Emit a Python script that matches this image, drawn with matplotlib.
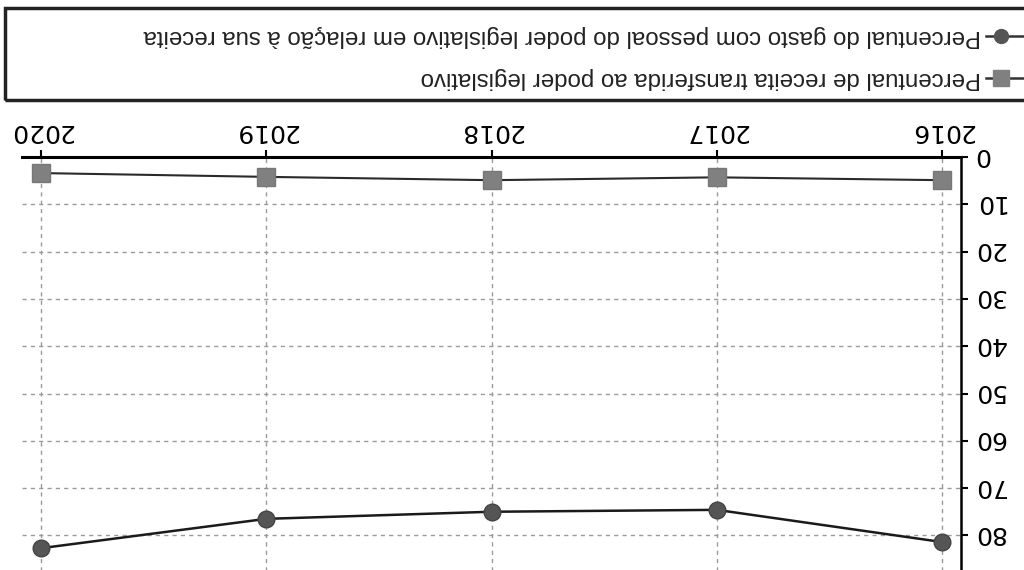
import matplotlib
matplotlib.use("Agg")
import matplotlib.pyplot as plt
from matplotlib.lines import Line2D
from matplotlib.patches import Rectangle

# dados (gráfico digitalizado de cabeça para baixo)
anos = [2016, 2017, 2018, 2019, 2020]
gasto_pessoal = [81.4, 74.6, 75.0, 76.5, 82.7]
receita_transferida = [4.9, 4.3, 4.9, 4.2, 3.4]
yticks = [0, 10, 20, 30, 40, 50, 60, 70, 80]
legenda = [
    "Percentual do gasto com pessoal do poder legislativo em relação à sua receita",
    "Percentual de receita transferida ao poder legislativo",
]

W, H = 1024, 570
fig = plt.figure(figsize=(W / 100, H / 100), dpi=100)

def fx(x):
    return x / W

def fy(y):
    return 1 - y / H

# eixo: topo em y=157 px (valor 0), 4.73 px por unidade
top_px = 157
bottom_px = top_px + 90 * 4.73
ax = fig.add_axes([fx(22), fy(bottom_px), fx(961) - fx(22), fy(top_px) - fy(bottom_px)])

ax.plot(anos, gasto_pessoal, color="#1a1a1a", lw=1.8, marker="o", ms=12,
        mfc="#555555", mec="#444444", zorder=3)
ax.plot(anos, receita_transferida, color="#2a2a2a", lw=1.5, marker="s", ms=13,
        mfc="#808080", mec="#777777", zorder=3)

ax.set_xlim(2020 + 19 / 225, 2016 - 19 / 225)
ax.set_ylim(90, 0)

ax.xaxis.tick_top()
ax.yaxis.tick_right()
ax.set_xticks(anos)
ax.set_xticklabels([str(a) for a in anos], rotation=180, fontsize=18,
                   family="DejaVu Sans")
ax.set_yticks(yticks)
ax.set_yticklabels([str(v) for v in yticks], rotation=180, fontsize=18,
                   family="DejaVu Sans", rotation_mode="anchor",
                   ha="right", va="center_baseline")
ax.tick_params(axis="both", direction="out", length=5, width=1.5)
ax.tick_params(axis="x", pad=5)
ax.tick_params(axis="y", pad=4)

for s in ["left", "bottom"]:
    ax.spines[s].set_visible(False)
ax.spines["top"].set_linewidth(2.2)
ax.spines["right"].set_linewidth(1.8)

ax.grid(True, color="#9a9a9a", linestyle=(0, (3, 3)), lw=1)
ax.set_axisbelow(True)

# caixa da legenda (desenhada invertida)
fig.add_artist(Rectangle((fx(5), fy(100)), fx(1040) - fx(5), fy(8) - fy(100),
                         transform=fig.transFigure, fill=False, lw=2.5,
                         edgecolor="#222222"))

entradas = [(36, "o", "#555555", 10), (78, "s", "#808080", 12)]
for (ypx, mk, cor, ms), texto in zip(entradas, legenda):
    fig.add_artist(Line2D([fx(986), fx(1030)], [fy(ypx), fy(ypx)],
                          transform=fig.transFigure, color="#333333", lw=1.8))
    fig.add_artist(Line2D([fx(1001)], [fy(ypx)], transform=fig.transFigure,
                          marker=mk, ms=ms, mfc=cor, mec=cor, lw=0))
    fig.text(fx(981), fy(ypx), texto, rotation=180, ha="right", va="center",
             fontsize=17.3, family="Liberation Sans", color="#222222")

fig.savefig("out.png", dpi=100)
